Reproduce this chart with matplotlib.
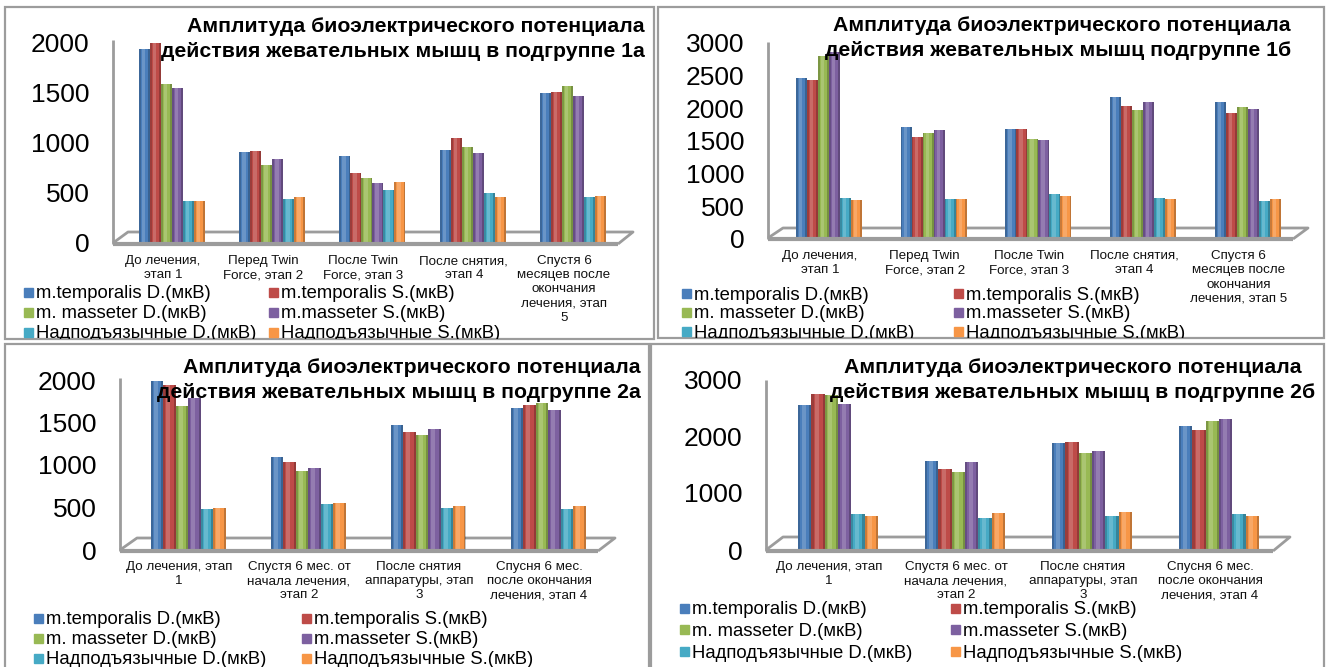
import matplotlib
matplotlib.use("Agg")
import matplotlib.pyplot as plt
from matplotlib import font_manager
from matplotlib.transforms import Affine2D
from matplotlib.patches import Rectangle
import numpy as np

plt.rcParams['font.family'] = ['Liberation Sans', 'DejaVu Sans']

# axis category text is set in a condensed face when one is available
_names = {f.name for f in font_manager.fontManager.ttflist}
if 'Liberation Sans Narrow' in _names:
    CAT_FONT, CAT_SIZE, CAT_LS = ['Liberation Sans Narrow', 'Liberation Sans'], 11.3, 0.95
else:
    CAT_FONT, CAT_SIZE, CAT_LS = ['Liberation Sans', 'DejaVu Sans'], 9.6, 1.25

W, H = 1334, 667

series_names = [
    'm.temporalis D.(мкВ)', 'm.temporalis S.(мкВ)',
    'm. masseter D.(мкВ)', 'm.masseter S.(мкВ)',
    'Надподъязычные D.(мкВ)', 'Надподъязычные S.(мкВ)',
]
series_colors = ['#4A7EBB', '#BE4B48', '#98B954', '#7D60A0', '#46AAC5', '#F79646']

title_head = 'Амплитуда биоэлектрического потенциала'
title_1a = 'действия жевательных мышц в подгруппе 1а'
title_1b = 'действия жевательных мышц подгруппе 1б'
title_2a = 'действия жевательных мышц в подгруппе 2а'
title_2b = 'действия жевательных мышц в подгруппе 2б'

stages_1a = ['До лечения,\nэтап 1', 'Перед Twin\nForce, этап 2', 'После Twin\nForce, этап 3',
             'После снятия,\nэтап 4', 'Спустя 6\nмесяцев после\nокончания\nлечения, этап\n5']
stages_1b = ['До лечения,\nэтап 1', 'Перед Twin\nForce, этап 2', 'После Twin\nForce, этап 3',
             'После снятия,\nэтап 4', 'Спустя 6\nмесяцев после\nокончания\nлечения, этап 5']
stages_2 = ['До лечения, этап\n1', 'Спустя 6 мес. от\nначала лечения,\nэтап 2',
            'После снятия\nаппаратуры, этап\n3', 'Спусня 6 мес.\nпосле окончания\nлечения, этап 4']

# amplitudes in мкВ: one row per muscle series, one column per stage
amp_1a = [
    [1940, 910, 870, 930, 1500],
    [2010, 920, 700, 1050, 1510],
    [1590, 780, 650, 960, 1570],
    [1550, 845, 600, 900, 1470],
    [420, 445, 530, 500, 460],
    [420, 465, 610, 465, 475],
]
amp_1b = [
    [2470, 1710, 1690, 2170, 2100],
    [2440, 1560, 1680, 2030, 1930],
    [2800, 1620, 1530, 1980, 2015],
    [2860, 1670, 1510, 2100, 1995],
    [620, 610, 690, 630, 575],
    [590, 610, 660, 610, 615],
]
amp_2a = [
    [1990, 1100, 1465, 1675],
    [1940, 1030, 1385, 1705],
    [1700, 935, 1355, 1735],
    [1790, 965, 1425, 1650],
    [480, 540, 500, 480],
    [495, 550, 520, 520],
]
amp_2b = [
    [2545, 1555, 1875, 2170],
    [2735, 1420, 1895, 2105],
    [2725, 1370, 1705, 2255],
    [2555, 1545, 1745, 2305],
    [625, 570, 605, 635],
    [605, 645, 675, 605],
]

# pixel layout of the four chart blocks (y measured from the top edge)
panels = [
    dict(values=amp_1a, stages=stages_1a, title=title_1a, ymax=2000, step=500,
         frame=(5, 7, 654, 339), floor=(113, 618, 244, 15, 12), wall_top=40,
         zero=243, top=43, c0=172, d=100.25, bar=11, label_top=255,
         title_xy=(645, 39), title_ha='right',
         rows=(293, 313, 333), cols=(24, 269)),
    dict(values=amp_1b, stages=stages_1b, title=title_1b, ymax=3000, step=500,
         frame=(658, 7, 1324, 338), floor=(768, 1293, 239, 15, 11), wall_top=42,
         zero=239, top=43, c0=829, d=104.7, bar=11, label_top=250,
         title_xy=(1291, 38), title_ha='right',
         rows=(294, 313, 332), cols=(682, 954)),
    dict(values=amp_2a, stages=stages_2, title=title_2a, ymax=2000, step=500,
         frame=(5, 344, 649, 690), floor=(120, 598, 551, 17, 13), wall_top=378,
         zero=550, top=380, c0=188, d=120, bar=12.5, label_top=561,
         title_xy=(641, 380), title_ha='right',
         rows=(619, 639, 659), cols=(34, 302)),
    dict(values=amp_2b, stages=stages_2, title=title_2b, ymax=3000, step=1000,
         frame=(651, 344, 1324, 690), floor=(766, 1273, 551, 17, 14), wall_top=380,
         zero=550, top=379, c0=838, d=127, bar=13.3, label_top=561,
         title_xy=(1073, 380), title_ha='center',
         rows=(609, 630, 652), cols=(680, 951)),
]

fig = plt.figure(figsize=(W / 100, H / 100), dpi=100)
fig.patch.set_facecolor('white')
PX = Affine2D().scale(1, -1).translate(0, H)  # top-left pixel coords -> display
GRAY = '#9C9C9C'


def draw_panel(p):
    L, R, F, dx, dy = p['floor']
    ax = fig.add_axes([L / W, 1 - p['zero'] / H, (R - L) / W, (p['zero'] - p['top']) / H])
    ax.patch.set_alpha(0)
    for s in ax.spines.values():
        s.set_visible(False)

    vals = np.array(p['values'], dtype=float)
    n_ser, n_cat = vals.shape
    x = np.arange(n_cat)
    bw = p['bar'] / p['d']
    for k in range(n_ser):
        xs = x + (k - (n_ser - 1) / 2) * bw
        c = series_colors[k]
        ax.bar(xs, vals[k], width=bw, color=c, edgecolor=c, linewidth=0, zorder=2)
        # cylinder-like shading
        ax.bar(xs - bw * 0.42, vals[k], width=bw * 0.16, color='black', alpha=0.18, lw=0, zorder=2.1)
        ax.bar(xs + bw * 0.42, vals[k], width=bw * 0.16, color='black', alpha=0.22, lw=0, zorder=2.1)
        ax.bar(xs - bw * 0.08, vals[k], width=bw * 0.3, color='white', alpha=0.18, lw=0, zorder=2.1)

    ax.set_xlim((L - p['c0']) / p['d'], (R - p['c0']) / p['d'])
    ax.set_ylim(0, p['ymax'])
    ax.set_xticks([])
    ax.set_yticks(np.arange(0, p['ymax'] + 1, p['step']))
    ax.tick_params(axis='y', length=0, pad=17, labelsize=19)

    # floor slab and back wall edge
    kw = dict(color=GRAY, transform=PX, clip_on=False, solid_capstyle='butt')
    ax.plot([L, L], [p['wall_top'], F], lw=2, zorder=1, **kw)
    ax.plot([L, L + dx, R + dx, R], [F - 1, F - dy, F - dy, F], lw=2, zorder=1, **kw)
    ax.plot([L, R], [F - 0.5, F - 0.5], lw=3, zorder=3, **kw)

    for i, lab in enumerate(p['stages']):
        ax.text(p['c0'] + p['d'] * i - 9, p['label_top'], lab, transform=PX,
                ha='center', va='top', family=CAT_FONT, fontsize=CAT_SIZE,
                linespacing=CAT_LS, color='#111111')

    # overlay for title, legend and frame
    fx0, fy0, fx1, fy1 = p['frame']
    ov = fig.add_axes([fx0 / W, 1 - fy1 / H, (fx1 - fx0) / W, (fy1 - fy0) / H])
    ov.set_xlim(0, 1)
    ov.set_ylim(0, 1)
    ov.patch.set_alpha(0)
    for s in ov.spines.values():
        s.set_visible(False)
    ov.set_xticks([])
    ov.set_yticks([])
    ov.add_patch(Rectangle((0, 0), 1, 1, transform=ov.transAxes, fill=False,
                           edgecolor=GRAY, lw=1.6, clip_on=False))

    tx, ty = p['title_xy']
    ov.text(tx, ty, title_head + '\n' + p['title'], transform=PX, ha=p['title_ha'],
            va='center', multialignment=p['title_ha'], fontsize=15.3, fontweight='bold',
            linespacing=1.35, clip_on=True)

    for k, name in enumerate(series_names):
        yc = p['rows'][k // 2]
        xc = p['cols'][k % 2]
        ov.add_patch(Rectangle((xc, yc - 5), 9, 9, transform=PX, color=series_colors[k], clip_on=True))
        ov.text(xc + 12, yc + 1, name, transform=PX, ha='left', va='center',
                fontsize=13.3, clip_on=True)


for p in panels:
    draw_panel(p)

fig.savefig('out.png', dpi=100, facecolor='white')
